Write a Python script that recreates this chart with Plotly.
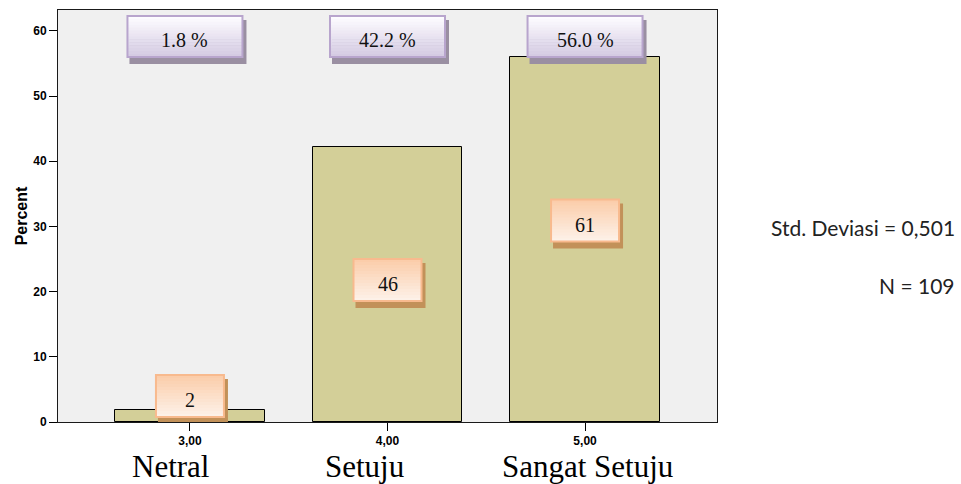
import plotly.graph_objects as go

# ---- data ----
categories = [3, 4, 5]
tick_labels = ["3,00", "4,00", "5,00"]
category_names = ["Netral", "Setuju", "Sangat Setuju"]
percents = [1.8, 42.2, 56.0]
counts = [2, 46, 61]
percent_labels = ["1.8 %", "42.2 %", "56.0 %"]
std_text = "Std. Deviasi = 0,501"
n_text = "N = 109"

# ---- layout / style (not data) ----
count_label_y = [4.0, 21.8, 30.9]      # y positions of count boxes (data units)
pct_label_y = 59.15                     # y position of percent boxes
pct_dx = [-5, 0, 0]                     # pixel nudges of percent boxes
name_dx = [-19, -23, 2]                 # pixel nudges of category names

fig = go.Figure()
fig.add_trace(go.Bar(
    x=categories, y=percents, width=0.755,
    marker=dict(color="#d3cf98", line=dict(color="#000000", width=1)),
    hoverinfo="skip", showlegend=False,
))


def hexmix(c1, c2, t):
    a = [int(c1[i:i + 2], 16) for i in (1, 3, 5)]
    b = [int(c2[i:i + 2], 16) for i in (1, 3, 5)]
    return "#" + "".join(f"{round(a[k] + (b[k] - a[k]) * t):02x}" for k in range(3))


shapes = []


def add_box(xc, yc, dx, w, h, top, bottom, border, shadow, n=14):
    base = dict(type="rect", xref="x", yref="y", xsizemode="pixel", ysizemode="pixel",
                xanchor=xc, yanchor=yc, layer="above")
    # shadow
    shapes.append(dict(base, x0=dx - w / 2 + 2, x1=dx + w / 2 + 4, y0=-h / 2 - 7, y1=h / 2 - 4,
                       fillcolor=shadow, line=dict(width=0)))
    # gradient
    for i in range(n):
        y1 = h / 2 - h * i / n
        y0 = h / 2 - h * (i + 1) / n
        shapes.append(dict(base, x0=dx - w / 2, x1=dx + w / 2, y0=y0 - 0.5, y1=y1,
                           fillcolor=hexmix(top, bottom, i / (n - 1)), line=dict(width=0)))
    # border
    shapes.append(dict(base, x0=dx - w / 2, x1=dx + w / 2, y0=-h / 2, y1=h / 2,
                       fillcolor="rgba(0,0,0,0)", line=dict(color=border, width=2)))


annotations = []
for i, c in enumerate(categories):
    # percent boxes
    add_box(c, pct_label_y, pct_dx[i], 115, 41, "#fdfcff", "#d5cbe3", "#b8a5cd", "#9a8fa2")
    annotations.append(dict(x=c, y=pct_label_y, xref="x", yref="y", text=percent_labels[i],
                            showarrow=False, xshift=pct_dx[i], yshift=-4,
                            font=dict(family="Liberation Serif", size=20, color="#111111")))
    # count boxes
    add_box(c, count_label_y[i], 0, 68, 42, "#fbcdaa", "#fdf1e8", "#f8ba8e", "#c29159")
    annotations.append(dict(x=c, y=count_label_y[i], xref="x", yref="y", text=str(counts[i]),
                            showarrow=False, yshift=-4,
                            font=dict(family="Liberation Serif", size=20, color="#111111")))
    # category names below axis
    annotations.append(dict(x=c, y=-0.109, xref="x", yref="paper", text=category_names[i],
                            showarrow=False, xshift=name_dx[i], yanchor="middle",
                            font=dict(family="Liberation Serif", size=31, color="#000000")))

annotations.append(dict(x=1.364, y=0.4733, xref="paper", yref="paper", text=std_text,
                        showarrow=False, xanchor="right", yanchor="middle",
                        font=dict(family="Lato", size=21, color="#222222")))
annotations.append(dict(x=1.364, y=0.3325, xref="paper", yref="paper", text=n_text,
                        showarrow=False, xanchor="right", yanchor="middle",
                        font=dict(family="Lato", size=21, color="#222222")))

fig.update_layout(
    width=961, height=484,
    margin=dict(l=58, r=244, t=10, b=62, autoexpand=False),
    paper_bgcolor="#ffffff", plot_bgcolor="#f0f0f0",
    shapes=shapes, annotations=annotations,
    bargap=0,
    xaxis=dict(range=[2.332, 5.668], tickvals=categories, ticktext=tick_labels,
               ticks="outside", ticklen=8, tickcolor="#000000",
               showline=True, linecolor="#1a1a1a", linewidth=1, mirror=True,
               showgrid=False, zeroline=False,
               tickfont=dict(family="Liberation Sans", size=12, color="#000000", weight="bold")),
    yaxis=dict(range=[0, 63.2], tickvals=[0, 10, 20, 30, 40, 50, 60],
               ticks="outside", ticklen=8, tickcolor="#000000",
               showline=True, linecolor="#1a1a1a", linewidth=1, mirror=True,
               showgrid=False, zeroline=False,
               tickfont=dict(family="Liberation Sans", size=12, color="#000000", weight="bold"),
               title=dict(text="Percent", standoff=1,
                          font=dict(family="Liberation Sans", size=16, color="#000000", weight="bold"))),
)

fig.write_html("out.html")
